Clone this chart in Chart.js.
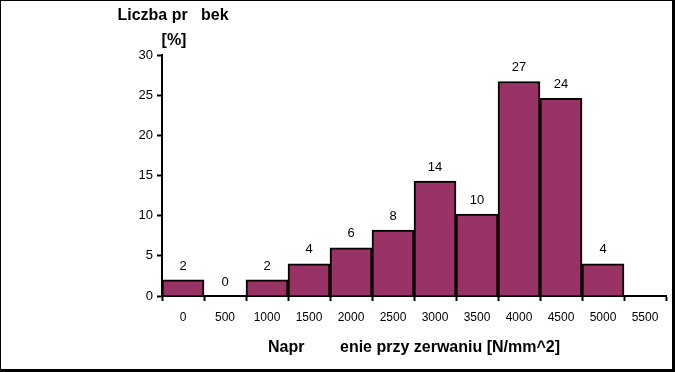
<!DOCTYPE html>
<html>
<head>
<meta charset="utf-8">
<script src="https://cdn.jsdelivr.net/npm/chart.js@4/dist/chart.umd.min.js"></script>
<style>
  html, body { margin: 0; padding: 0; background: #fff; }
  #wrap { width: 675px; height: 372px; position: relative; }
</style>
</head>
<body>
<div id="wrap"><canvas id="chart" width="675" height="372"></canvas></div>
<script>
// categories (lower edge of class, N/mm^2)
const categories = ['0', '500', '1000', '1500', '2000', '2500', '3000', '3500', '4000', '4500', '5000', '5500'];
// bar heights [%]
const shares = [2, 0, 2, 4, 6, 8.2, 14.3, 10.2, 26.7, 24.6, 4, null];
// numbers printed above the bars
const valueLabels = ['2', '0', '2', '4', '6', '8', '14', '10', '27', '24', '4', ''];
const yTicks = [0, 5, 10, 15, 20, 25, 30];

const FONT = '"Liberation Sans", Arial, sans-serif';

// value labels above bars + y title + outer frame
const extras = {
  id: 'extras',
  afterDatasetsDraw(chart) {
    const ctx = chart.ctx;
    const meta = chart.getDatasetMeta(0);
    ctx.save();
    ctx.fillStyle = '#000';
    ctx.font = '13px ' + FONT;
    ctx.textAlign = 'center';
    ctx.textBaseline = 'middle';
    meta.data.forEach((bar, i) => {
      if (!valueLabels[i]) return;
      ctx.fillText(valueLabels[i], bar.x, bar.y - 14);
    });
    ctx.restore();
  },
  afterDraw(chart) {
    const ctx = chart.ctx;
    ctx.save();
    ctx.fillStyle = '#000';
    ctx.font = 'bold 16px ' + FONT;
    ctx.textAlign = 'center';
    ctx.textBaseline = 'middle';
    ctx.fillText('Liczba pr   bek', 173, 16);
    ctx.fillText('[%]', 174, 41);
    // frame
    ctx.fillRect(0, 0, 675, 1);
    ctx.fillRect(0, 0, 1, 372);
    ctx.fillRect(672, 0, 3, 372);
    ctx.fillRect(0, 369, 675, 3);
    ctx.restore();
  }
};

new Chart(document.getElementById('chart').getContext('2d'), {
  type: 'bar',
  data: {
    labels: categories,
    datasets: [{
      data: shares,
      backgroundColor: '#993366',
      borderColor: '#000',
      borderWidth: 2,
      barPercentage: 1,
      categoryPercentage: 1
    }]
  },
  options: {
    responsive: false,
    animation: false,
    layout: { padding: { top: 55, right: 9, left: 0, bottom: 3 } },
    plugins: {
      legend: { display: false },
      tooltip: { enabled: false }
    },
    scales: {
      x: {
        offset: true,
        grid: {
          offset: true,
          drawOnChartArea: false,
          drawTicks: true,
          tickLength: 5,
          tickWidth: 2,
          tickColor: '#000'
        },
        border: { color: '#000', width: 2 },
        ticks: {
          color: '#000',
          font: { family: FONT, size: 12 },
          padding: 9,
          maxRotation: 0,
          autoSkip: false
        },
        title: {
          display: true,
          text: 'Napr        enie przy zerwaniu [N/mm^2]',
          color: '#000',
          font: { family: FONT, size: 16, weight: 'bold' },
          padding: { top: 14, bottom: 12 }
        },
        afterFit(scale) { scale.height = 73; }
      },
      y: {
        min: 0,
        max: 30,
        afterBuildTicks(scale) { scale.ticks = yTicks.map(v => ({ value: v })); },
        grid: {
          drawOnChartArea: false,
          drawTicks: true,
          tickLength: 5,
          tickWidth: 2,
          tickColor: '#000'
        },
        border: { color: '#000', width: 2 },
        ticks: {
          color: '#000',
          font: { family: FONT, size: 13 },
          padding: 4
        },
        afterFit(scale) { scale.width = 162; }
      }
    }
  },
  plugins: [extras]
});
</script>
</body>
</html>
